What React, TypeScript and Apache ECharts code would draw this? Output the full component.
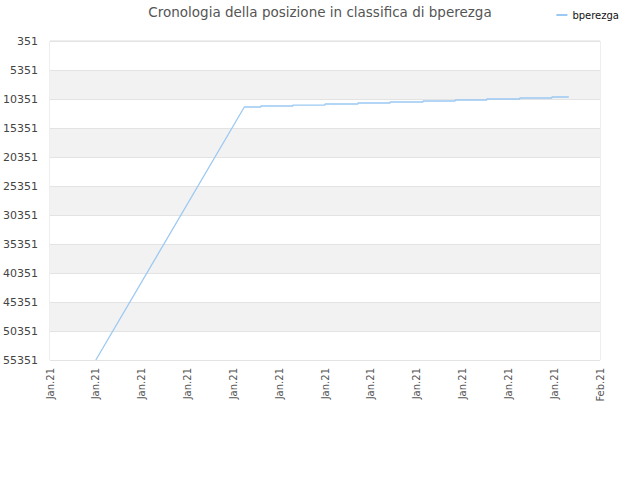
import React, { useEffect, useRef } from "react";
import * as echarts from "echarts";

const TITLE = "Cronologia della posizione in classifica di bperezga";
const SERIES_NAME = "bperezga";
const X_LABELS = ["Jan.21", "Jan.21", "Jan.21", "Jan.21", "Jan.21", "Jan.21", "Jan.21", "Jan.21", "Jan.21", "Jan.21", "Jan.21", "Jan.21", "Feb.21"];
const Y_MIN = 351;
const Y_MAX = 55351;
const Y_STEP = 5000;
// start of the climb
const START_X = 1.0;
const START_RANK = 55351;
// positions (in label units) where the rank changes, and the rank reached
const STEP_X = [4.24, 4.6, 5.3, 6.0, 6.72, 7.42, 8.14, 8.84, 9.53, 10.25, 10.95];
const STEP_RANK = [11730, 11560, 11390, 11210, 11040, 10870, 10700, 10520, 10350, 10180, 10010];
const END_X = 11.32;

export default function App() {
  const ref = useRef<HTMLDivElement>(null);
  useEffect(() => {
    if (!ref.current) return;
    const chart = echarts.init(ref.current, null, { renderer: "svg" });
    const off = (r: number) => r - Y_MIN;
    const data: number[][] = [[START_X, off(START_RANK)], [STEP_X[0], off(STEP_RANK[0])]];
    for (let i = 1; i < STEP_X.length; i++) {
      data.push([STEP_X[i], off(STEP_RANK[i - 1])]);
      data.push([STEP_X[i], off(STEP_RANK[i])]);
    }
    data.push([END_X, off(STEP_RANK[STEP_RANK.length - 1])]);
    const font = "'DejaVu Sans', sans-serif";
    chart.setOption({
      animation: false,
      textStyle: { fontFamily: font },
      title: {
        text: TITLE,
        left: "center",
        top: 0,
        textStyle: { fontFamily: font, fontSize: 13.5, fontWeight: "normal", color: "#555" },
      },
      legend: {
        right: 16,
        top: 5,
        itemWidth: 11,
        itemHeight: 2,
        itemGap: 8,
        icon: "rect",
        textStyle: { fontFamily: font, fontSize: 10, color: "#111" },
        data: [SERIES_NAME],
      },
      grid: { left: 50, right: 40, top: 41, bottom: 120, show: true, borderColor: "#ddd", borderWidth: 1, backgroundColor: "transparent" },
      xAxis: {
        type: "value",
        min: 0,
        max: X_LABELS.length - 1,
        interval: 1,
        axisLine: { show: false },
        axisTick: { show: false },
        splitLine: { show: false },
        axisLabel: {
          rotate: 90,
          fontSize: 10,
          color: "#555",
          margin: 8,
          formatter: (v: number) => X_LABELS[Math.round(v)] ?? "",
        },
      },
      yAxis: {
        type: "value",
        inverse: true,
        min: 0,
        max: Y_MAX - Y_MIN,
        interval: Y_STEP,
        axisLine: { show: false },
        axisTick: { show: false },
        splitLine: { show: true, lineStyle: { color: "#e3e3e3", width: 1 } },
        splitArea: { show: true, areaStyle: { color: ["#ffffff", "#f2f2f2"] } },
        axisLabel: {
          fontSize: 11,
          color: "#444",
          margin: 12,
          formatter: (v: number) => String(v + Y_MIN),
        },
      },
      series: [
        {
          name: SERIES_NAME,
          type: "line",
          data,
          showSymbol: false,
          symbol: "none",
          clip: true,
          lineStyle: { color: "#9cc9f3", width: 1.3 },
          itemStyle: { color: "#9cc9f3" },
        },
      ],
    });
    return () => chart.dispose();
  }, []);
  return <div ref={ref} style={{ position: "absolute", left: 0, top: 0, width: 640, height: 480 }} />;
}
